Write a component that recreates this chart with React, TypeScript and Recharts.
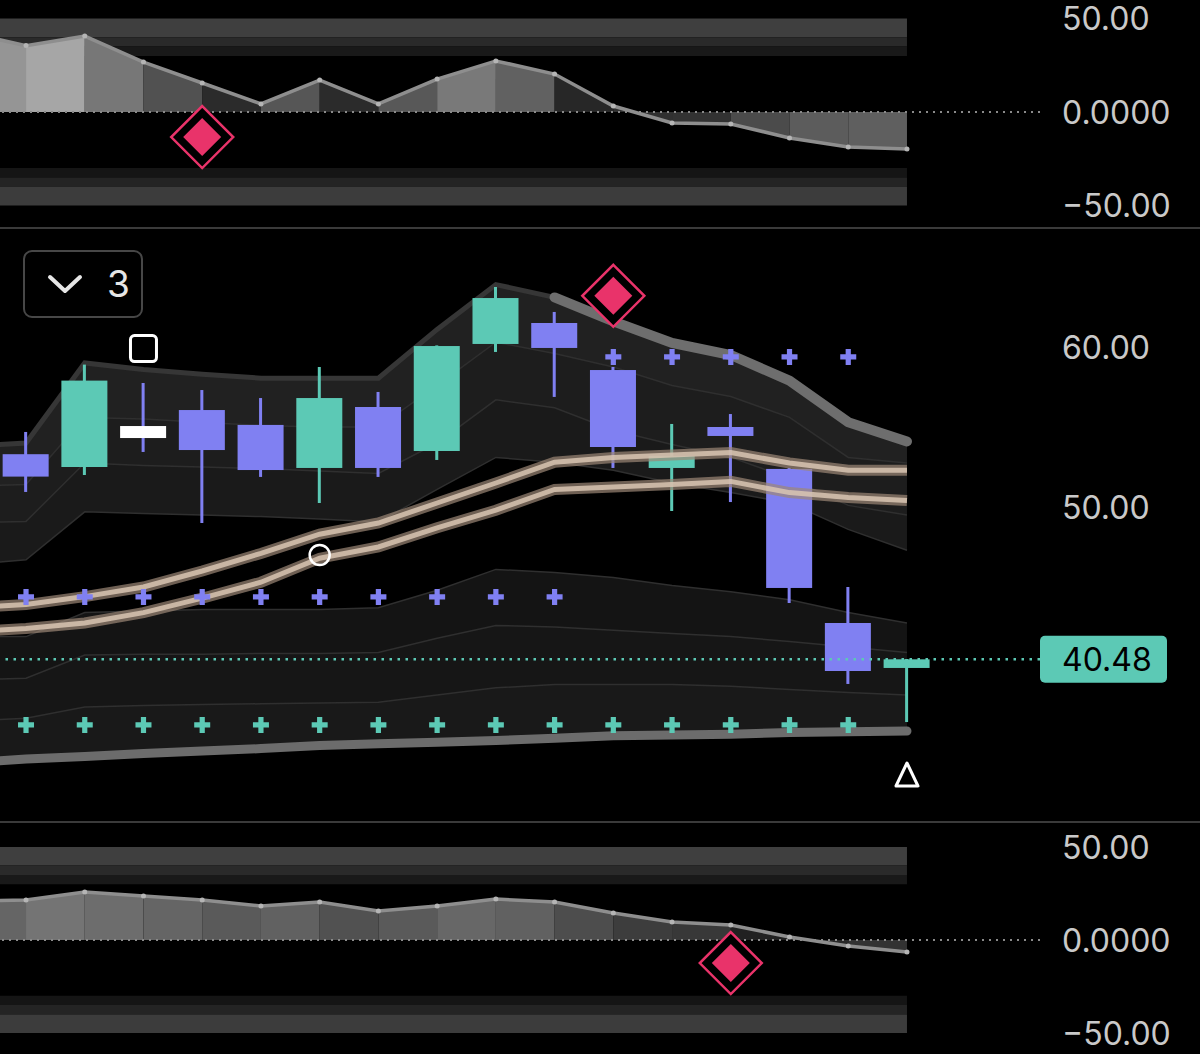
import React from "react";
import { ComposedChart, Area, Bar, Line, Scatter, XAxis, YAxis, ReferenceLine } from "recharts";

// bar index; -1 is the partly hidden bar at the left edge
const IDX = [-1, 0, 1, 2, 3, 4, 5, 6, 7, 8, 9, 10, 11, 12, 13, 14, 15];

// oscillator panes
const TOP_OSC = [42.4, 35.5, 40.6, 26.7, 15.5, 4.3, 17.1, 4.3, 17.6, 27.3, 20.3, 3.2, -5.9, -6.4, -13.9, -18.7, -19.8];
const BOTTOM_OSC = [21.0, 21.5, 25.8, 23.7, 21.5, 18.3, 20.4, 15.6, 18.3, 22.0, 20.4, 14.5, 9.7, 8.1, 1.6, -3.2, -6.5];
const OSC_TICKS = [50, 0, -50];
const OSC_LEVELS = [[40, 50], [35, 40], [30, 35], [-35, -30], [-40, -35], [-50, -40]];

// candles, bars 0..15
const OPEN = [53.3, 52.5, 55.06, 56.06, 55.13, 52.44, 56.25, 53.5, 60.19, 61.5, 58.56, 52.44, 55.0, 52.38, 42.75, 39.94];
const HIGH = [54.69, 58.9, 57.75, 57.31, 56.81, 58.75, 57.19, 60.1, 63.75, 62.19, 58.75, 55.19, 55.81, 52.44, 45.0, 40.5];
const LOW = [50.94, 52.0, 53.44, 49.0, 51.88, 50.25, 51.88, 52.94, 59.69, 56.88, 52.44, 49.75, 50.31, 44.0, 38.94, 36.56];
const CLOSE = [51.9, 57.9, 54.31, 53.56, 52.31, 56.81, 52.44, 60.06, 63.06, 59.94, 53.75, 53.19, 54.44, 44.94, 39.75, 40.48];
const HIGHLIGHT_CANDLE = 2;
const LAST_PRICE = 40.48;
const PRICE_TICKS = [60, 50, LAST_PRICE];

// band lines (bars -1..15)
const ENV_UPPER = [53.8, 54.0, 59.0, 58.6, 58.3, 58.05, 58.05, 58.05, 61.1, 63.9, 63.1, 61.6, 60.25, 59.5, 57.9, 55.3, 54.1];
const BAND_B = [51.3, 51.4, 55.6, 55.5, 55.3, 55.1, 55.0, 55.0, 57.6, 60.3, 59.6, 58.75, 57.6, 56.9, 55.6, 53.1, 52.75];
const BAND_C = [49.0, 49.1, 52.75, 52.6, 52.5, 52.4, 52.25, 52.1, 54.0, 56.7, 56.2, 54.8, 53.9, 53.1, 51.8, 50.1, 49.5];
const BAND_D = [46.4, 46.7, 49.7, 49.6, 49.5, 49.4, 49.25, 49.06, 51.1, 53.1, 52.8, 52.3, 51.5, 50.9, 50.25, 48.6, 47.3];
const BAND_E = [41.9, 41.9, 43.4, 43.5, 43.6, 43.6, 43.6, 43.7, 44.8, 46.1, 45.9, 45.6, 45.1, 44.7, 44.2, 43.4, 42.75];
const BAND_F = [39.2, 39.3, 40.75, 40.8, 40.8, 40.85, 40.85, 40.9, 41.8, 42.6, 42.5, 42.3, 42.1, 41.9, 41.6, 41.25, 40.9];
const BAND_G = [36.6, 36.8, 37.5, 37.6, 37.65, 37.7, 37.75, 37.8, 38.25, 38.7, 38.9, 38.9, 38.9, 38.8, 38.6, 38.4, 38.25];
const ENV_LOWER = [34.0, 34.25, 34.4, 34.6, 34.75, 34.9, 35.1, 35.2, 35.3, 35.4, 35.55, 35.7, 35.75, 35.8, 35.9, 35.95, 36.0];
const MA_FAST = [43.7, 43.9, 44.4, 45.0, 46.0, 47.1, 48.3, 49.0, 50.25, 51.5, 52.8, 53.1, 53.25, 53.4, 52.75, 52.3, 52.3];
const MA_SLOW = [42.2, 42.4, 42.75, 43.4, 44.3, 45.3, 46.8, 47.5, 48.7, 49.8, 51.1, 51.25, 51.4, 51.6, 50.9, 50.6, 50.4];

// marker rows
const MARK_IDX = [0, 1, 2, 3, 4, 5, 6, 7, 8, 9, 10, 11, 12, 13, 14];
const PURPLE_MARKS = [44.38, 44.38, 44.38, 44.38, 44.38, 44.38, 44.38, 44.38, 44.38, 44.38, 59.38, 59.38, 59.38, 59.38, 59.38];
const TEAL_MARKS = [36.38, 36.38, 36.38, 36.38, 36.38, 36.38, 36.38, 36.38, 36.38, 36.38, 36.38, 36.38, 36.38, 36.38, 36.38];

// signals
const TOP_SIGNAL = [{ i: 3, v: -13.4 }];
const BOTTOM_SIGNAL = [{ i: 12, v: -12.4 }];
const MAIN_SIGNAL = [{ i: 10, v: 63.2 }];
const SQUARE_SIGNAL = [{ i: 2, v: 59.9 }];
const CIRCLE_SIGNAL = [{ i: 5, v: 47.0 }];
const TRIANGLE_SIGNAL = [{ i: 15, v: 33.25 }];

const W = 1200;
const AXIS_W = 160;
const LABEL_X = 1062;
const XMIN = -0.443;
const XMAX = 17.265;
const FONT = "Inter, 'Noto Sans', 'DejaVu Sans', sans-serif";
const TEAL = "#5cc9b5";
const PURPLE = "#8080f2";
const PINK = "#e9336a";
const LEVEL_FILLS = ["#3f3f3f", "#2a2a2a", "#191919", "#151515", "#242424", "#3c3c3c"];

const grey = (v: number) => {
  const g = Math.round(28 + 3.4 * Math.abs(v));
  return `rgb(${g},${g},${g})`;
};

const fmtOsc = (v: number) => (v === 0 ? "0.0000" : (v < 0 ? "\u2212" : "") + Math.abs(v).toFixed(2));

function OscTick(props: any) {
  const { y, payload } = props;
  return (
    <text x={LABEL_X} y={y} dy="0.36em" fill="#c9c9c9" fontSize={32} fontFamily={FONT}>
      {fmtOsc(payload.value)}
    </text>
  );
}

function PriceTick(props: any) {
  const { y, payload } = props;
  if (payload.value === LAST_PRICE) {
    return (
      <g>
        <rect x={1040} y={y - 23.5} width={127} height={47} rx={5} fill={TEAL} />
        <text x={LABEL_X} y={y} dy="0.36em" fill="#000" fontSize={32} fontFamily={FONT}>
          {payload.value.toFixed(2)}
        </text>
      </g>
    );
  }
  return (
    <text x={LABEL_X} y={y} dy="0.36em" fill="#c9c9c9" fontSize={32} fontFamily={FONT}>
      {payload.value.toFixed(2)}
    </text>
  );
}

function DiamondMark(props: any) {
  const { cx, cy } = props;
  const o = 31;
  const n = 19;
  return (
    <g>
      <path d={`M${cx},${cy - o}L${cx + o},${cy}L${cx},${cy + o}L${cx - o},${cy}Z`} fill="#000" stroke={PINK} strokeWidth={2.5} />
      <path d={`M${cx},${cy - n}L${cx + n},${cy}L${cx},${cy + n}L${cx - n},${cy}Z`} fill={PINK} />
    </g>
  );
}

function plus(color: string) {
  return (props: any) => {
    const { cx, cy } = props;
    const a = 8;
    const t = 2.6;
    return (
      <path
        d={`M${cx - a},${cy - t}H${cx - t}V${cy - a}H${cx + t}V${cy - t}H${cx + a}V${cy + t}H${cx + t}V${cy + a}H${cx - t}V${cy + t}H${cx - a}Z`}
        fill={color}
      />
    );
  };
}

const SquareMark = (p: any) => <rect x={p.cx - 13} y={p.cy - 13} width={26} height={26} rx={4} fill="none" stroke="#fff" strokeWidth={3} />;
const CircleMark = (p: any) => <circle cx={p.cx} cy={p.cy} r={10} fill="none" stroke="#fff" strokeWidth={2.5} />;
const TriangleMark = (p: any) => (
  <path d={`M${p.cx},${p.cy - 12}L${p.cx + 11},${p.cy + 11}L${p.cx - 11},${p.cy + 11}Z`} fill="none" stroke="#fff" strokeWidth={3} strokeLinejoin="round" />
);

function CandleShape(props: any) {
  const { x, y, width, height, payload } = props;
  if (!payload || payload.open == null || !Number.isFinite(y)) return null;
  const top = Math.min(y, y + height);
  const span = Math.abs(height);
  const k = span / (payload.high - payload.low || 1);
  const py = (v: number) => top + (payload.high - v) * k;
  const rising = payload.close >= payload.open;
  const wick = rising ? TEAL : PURPLE;
  const body = payload.i === HIGHLIGHT_CANDLE ? "#ffffff" : wick;
  const bt = py(Math.max(payload.open, payload.close));
  const bb = py(Math.min(payload.open, payload.close));
  const cx = x + width / 2;
  return (
    <g>
      <rect x={cx - 1.5} y={top} width={3} height={span} fill={wick} />
      <rect x={x} y={bt} width={width} height={Math.max(bb - bt, 3)} fill={body} />
    </g>
  );
}

function OscPane({ values, height, domain, signal }: any) {
  const rows = IDX.map((i, k) => ({ i, v: values[k] }));
  return (
    <ComposedChart width={W} height={height} data={rows} margin={{ top: 0, right: 0, bottom: 0, left: 0 }}>
      <XAxis dataKey="i" type="number" domain={[XMIN, XMAX]} allowDataOverflow hide />
      <YAxis
        orientation="right"
        width={AXIS_W}
        type="number"
        domain={domain}
        allowDataOverflow
        ticks={OSC_TICKS}
        interval={0}
        axisLine={false}
        tickLine={false}
        tick={<OscTick />}
      />
      {OSC_LEVELS.map(([lo, hi], k) => (
        <Area key={"lv" + k} dataKey={() => [lo, hi]} fill={LEVEL_FILLS[k]} fillOpacity={1} stroke="none" isAnimationActive={false} />
      ))}
      {IDX.slice(1).map((i, k) => (
        <Area
          key={"sg" + k}
          dataKey={(d: any) => (d.i === i || d.i === IDX[k] ? d.v : null)}
          baseValue={0}
          fill={grey(values[k + 1])}
          fillOpacity={1}
          stroke="none"
          isAnimationActive={false}
        />
      ))}
      <ReferenceLine y={0} stroke="#8a8a8a" strokeWidth={2} strokeDasharray="2 5" />
      <Line dataKey="v" stroke="#8e8e8e" strokeWidth={3.5} dot={{ r: 2.5, fill: "#b5b5b5", stroke: "none" }} activeDot={false} isAnimationActive={false} />
      <Scatter data={signal} dataKey="v" shape={DiamondMark} isAnimationActive={false} />
    </ComposedChart>
  );
}

function MainPane() {
  const rows = IDX.map((i, k) => ({
    i,
    up: ENV_UPPER[k],
    b: BAND_B[k],
    c: BAND_C[k],
    d: BAND_D[k],
    e: BAND_E[k],
    f: BAND_F[k],
    g: BAND_G[k],
    lo: ENV_LOWER[k],
    fast: MA_FAST[k],
    slow: MA_SLOW[k],
    ...(k > 0 ? { open: OPEN[k - 1], high: HIGH[k - 1], low: LOW[k - 1], close: CLOSE[k - 1] } : {}),
  }));
  const purple = MARK_IDX.map((i, k) => ({ i, v: PURPLE_MARKS[k] }));
  const teal = MARK_IDX.map((i, k) => ({ i, v: TEAL_MARKS[k] }));
  const thin = { fill: "none", fillOpacity: 0, stroke: "#2f2f2f", strokeWidth: 1.5, isAnimationActive: false };
  return (
    <ComposedChart width={W} height={592} data={rows} margin={{ top: 0, right: 0, bottom: 0, left: 0 }}>
      <XAxis dataKey="i" type="number" domain={[XMIN, XMAX]} allowDataOverflow hide />
      <YAxis
        orientation="right"
        width={AXIS_W}
        type="number"
        domain={[30.375, 67.375]}
        allowDataOverflow
        ticks={PRICE_TICKS}
        interval={0}
        axisLine={false}
        tickLine={false}
        tick={<PriceTick />}
      />
      <Area dataKey={(r: any) => [r.b, r.up]} fill="#212121" fillOpacity={1} stroke="none" isAnimationActive={false} />
      <Area dataKey={(r: any) => [r.c, r.b]} fill="#1d1d1d" fillOpacity={1} stroke="none" isAnimationActive={false} />
      <Area dataKey={(r: any) => [r.d, r.c]} fill="#1a1a1a" fillOpacity={1} stroke="none" isAnimationActive={false} />
      <Area dataKey={(r: any) => [r.f, r.e]} fill="#141414" fillOpacity={1} stroke="none" isAnimationActive={false} />
      <Area dataKey={(r: any) => [r.g, r.f]} fill="#161616" fillOpacity={1} stroke="none" isAnimationActive={false} />
      <Area dataKey={(r: any) => [r.lo, r.g]} fill="#191919" fillOpacity={1} stroke="none" isAnimationActive={false} />
      <Area dataKey="b" {...thin} />
      <Area dataKey="c" {...thin} />
      <Area dataKey="d" {...thin} />
      <Area dataKey="e" {...thin} />
      <Area dataKey="f" {...thin} />
      <Area dataKey="g" {...thin} />
      <Area dataKey={(r: any) => (r.i <= 9 ? r.up : null)} {...thin} stroke="#363636" strokeWidth={5} />
      <Bar dataKey={(r: any) => (r.open != null ? [r.low, r.high] : null)} barSize={46} shape={CandleShape} isAnimationActive={false} />
      <ReferenceLine y={LAST_PRICE} stroke={TEAL} strokeWidth={2.5} strokeDasharray="2.5 5.5" />
      <Line dataKey={(r: any) => (r.i >= 9 ? r.up : null)} stroke="#6e6e6e" strokeWidth={10} strokeLinecap="round" dot={false} activeDot={false} isAnimationActive={false} />
      <Line dataKey="lo" stroke="#6c6c6c" strokeWidth={9} strokeLinecap="round" dot={false} activeDot={false} isAnimationActive={false} />
      <Line dataKey="fast" stroke="#9c8776" strokeOpacity={0.7} strokeWidth={11} dot={false} activeDot={false} isAnimationActive={false} />
      <Line dataKey="fast" stroke="#d9c6b3" strokeOpacity={0.85} strokeWidth={5} dot={false} activeDot={false} isAnimationActive={false} />
      <Line dataKey="slow" stroke="#9c8776" strokeOpacity={0.7} strokeWidth={11} dot={false} activeDot={false} isAnimationActive={false} />
      <Line dataKey="slow" stroke="#d9c6b3" strokeOpacity={0.85} strokeWidth={5} dot={false} activeDot={false} isAnimationActive={false} />
      <Scatter data={purple} dataKey="v" shape={plus(PURPLE)} isAnimationActive={false} />
      <Scatter data={teal} dataKey="v" shape={plus(TEAL)} isAnimationActive={false} />
      <Scatter data={MAIN_SIGNAL} dataKey="v" shape={DiamondMark} isAnimationActive={false} />
      <Scatter data={SQUARE_SIGNAL} dataKey="v" shape={SquareMark} isAnimationActive={false} />
      <Scatter data={CIRCLE_SIGNAL} dataKey="v" shape={CircleMark} isAnimationActive={false} />
      <Scatter data={TRIANGLE_SIGNAL} dataKey="v" shape={TriangleMark} isAnimationActive={false} />
    </ComposedChart>
  );
}

export default function App() {
  return (
    <div style={{ position: "relative", width: W, height: 1054, background: "#000", overflow: "hidden", fontFamily: FONT }}>
      <style>{`body{margin:0;background:#000}`}</style>
      <div style={{ position: "absolute", left: 0, top: 0 }}>
        <OscPane values={TOP_OSC} height={227} domain={[-61.5, 59.89]} signal={TOP_SIGNAL} />
      </div>
      <div style={{ position: "absolute", left: 0, top: 227, width: W, height: 2, background: "#3a3a3a" }} />
      <div style={{ position: "absolute", left: 0, top: 229 }}>
        <MainPane />
      </div>
      <div style={{ position: "absolute", left: 0, top: 821, width: W, height: 2, background: "#3a3a3a" }} />
      <div style={{ position: "absolute", left: 0, top: 823 }}>
        <OscPane values={BOTTOM_OSC} height={231} domain={[-61.3, 62.9]} signal={BOTTOM_SIGNAL} />
      </div>
      <div
        style={{
          position: "absolute",
          left: 23,
          top: 250,
          width: 120,
          height: 68,
          boxSizing: "border-box",
          border: "2px solid #474747",
          borderRadius: 9,
        }}
      >
        <svg width={116} height={64} style={{ position: "absolute", left: 0, top: 0 }}>
          <polyline points="25,25 40,39 55,25" fill="none" stroke="#e6e6e6" strokeWidth={4} strokeLinecap="round" strokeLinejoin="round" />
        </svg>
        <span style={{ position: "absolute", left: 82, top: 10, fontSize: 37, lineHeight: "44px", color: "#e6e6e6" }}>3</span>
      </div>
    </div>
  );
}
